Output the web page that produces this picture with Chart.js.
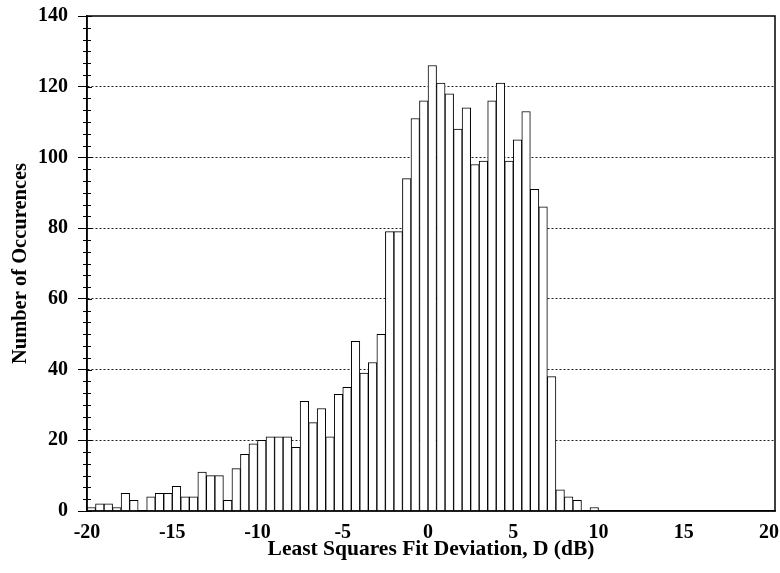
<!DOCTYPE html>
<html>
<head>
<meta charset="utf-8">
<script src="https://cdn.jsdelivr.net/npm/chart.js@4.4.0/dist/chart.umd.min.js"></script>
<style>
  html, body { margin: 0; padding: 0; background: #fff; }
  #wrap { width: 780px; height: 573px; }
</style>
</head>
<body>
<div id="wrap"><canvas id="chart" width="780" height="573"></canvas></div>
<script>
// Histogram data - bins are 0.5 dB wide, binStart = left edge of each bin
const binWidth = 0.5;
const binStart = [
  -20, -19.5, -19, -18.5, -18, -17.5, -17, -16.5, -16, -15.5,
  -15, -14.5, -14, -13.5, -13, -12.5, -12, -11.5, -11, -10.5,
  -10, -9.5, -9, -8.5, -8, -7.5, -7, -6.5, -6, -5.5,
  -5, -4.5, -4, -3.5, -3, -2.5, -2, -1.5, -1, -0.5,
  0, 0.5, 1, 1.5, 2, 2.5, 3, 3.5, 4, 4.5,
  5, 5.5, 6, 6.5, 7, 7.5, 8, 8.5, 9, 9.5
];
const counts = [
  1, 2, 2, 1, 5, 3, 0, 4, 5, 5,
  7, 4, 4, 11, 10, 10, 3, 12, 16, 19,
  20, 21, 21, 21, 18, 31, 25, 29, 21, 33,
  35, 48, 39, 42, 50, 79, 79, 94, 111, 116,
  126, 121, 118, 108, 114, 98, 99, 116, 121, 99,
  105, 113, 91, 86, 38, 6, 4, 3, 0, 1
];
const xTickValues = [-20, -15, -10, -5, 0, 5, 10, 15, 20];
const yTickValues = [0, 20, 40, 60, 80, 100, 120, 140];

const serif = '"Liberation Serif", "Times New Roman", serif';
const labelFont = { family: serif, size: 20, weight: 'bold' };

//Frame on top/right plus the small ticks on the y axis
const framePlugin = {
  id: 'frame',
  afterDraw(chart) {
    const c = chart.ctx;
    const a = chart.chartArea;
    const yScale = chart.scales.y;
    c.save();
    c.strokeStyle = '#000';
    c.lineWidth = 1.5;
    c.strokeRect(a.left, a.top, a.right - a.left, a.bottom - a.top);
    c.lineWidth = 1;
    c.beginPath();
    for (let i = 0; i <= 42; ++i) {
      const y = Math.round(yScale.getPixelForValue(i * 20 / 6)) + 0.5;
      if (i % 6 === 0) {
        c.moveTo(a.left, y);
        c.lineTo(a.left + 5, y);
      } else {
        c.moveTo(a.left - 4, y);
        c.lineTo(a.left + 4, y);
      }
    }
    c.stroke();
    c.restore();
  }
};

const ctx = document.getElementById('chart').getContext('2d');

new Chart(ctx, {
  type: 'bar',
  data: {
    datasets: [{
      data: binStart.map((x, i) => ({ x: x + binWidth / 2, y: counts[i] })),
      backgroundColor: '#fff',
      borderColor: '#000',
      borderWidth: 1,
      borderSkipped: 'start',
      barPercentage: 1,
      categoryPercentage: 1
    }]
  },
  options: {
    responsive: false,
    animation: false,
    events: [],
    layout: { padding: { top: 16, right: 5, left: 0, bottom: 0 } },
    plugins: {
      legend: { display: false },
      tooltip: { enabled: false }
    },
    scales: {
      x: {
        type: 'linear',
        min: -20,
        max: 20.35,
        offset: false,
        afterBuildTicks: s => { s.ticks = xTickValues.map(v => ({ value: v })); },
        afterFit: s => { s.height = 62; s.paddingLeft = 0; s.paddingRight = 0; },
        grid: { display: false, offset: false, drawTicks: false },
        border: { display: true, color: '#000', width: 1.5 },
        ticks: { color: '#000', font: labelFont, padding: 10, maxRotation: 0, autoSkip: false },
        title: {
          display: true,
          text: 'Least Squares Fit Deviation, D (dB)',
          color: '#000',
          font: { family: serif, size: 21.5, weight: 'bold' },
          padding: { top: 0, bottom: 11 }
        }
      },
      y: {
        min: 0,
        max: 140,
        afterBuildTicks: s => { s.ticks = yTickValues.map(v => ({ value: v })); },
        afterFit: s => { s.width = 87; s.paddingTop = 0; s.paddingBottom = 0; },
        grid: {
          color: c => (c.tick && (c.tick.value === 0 || c.tick.value === 140)) ? 'rgba(0,0,0,0)' : '#222',
          lineWidth: 1,
          tickColor: '#000',
          tickLength: 9,
          tickBorderDash: []
        },
        border: { display: true, color: '#000', width: 1.5, dash: [2, 2] },
        ticks: { color: '#000', font: labelFont, padding: 10 },
        title: {
          display: true,
          text: 'Number of Occurences',
          color: '#000',
          font: { family: serif, size: 20.5, weight: 'bold' },
          padding: { top: 8, bottom: 0 }
        }
      }
    }
  },
  plugins: [framePlugin]
});
</script>
</body>
</html>
